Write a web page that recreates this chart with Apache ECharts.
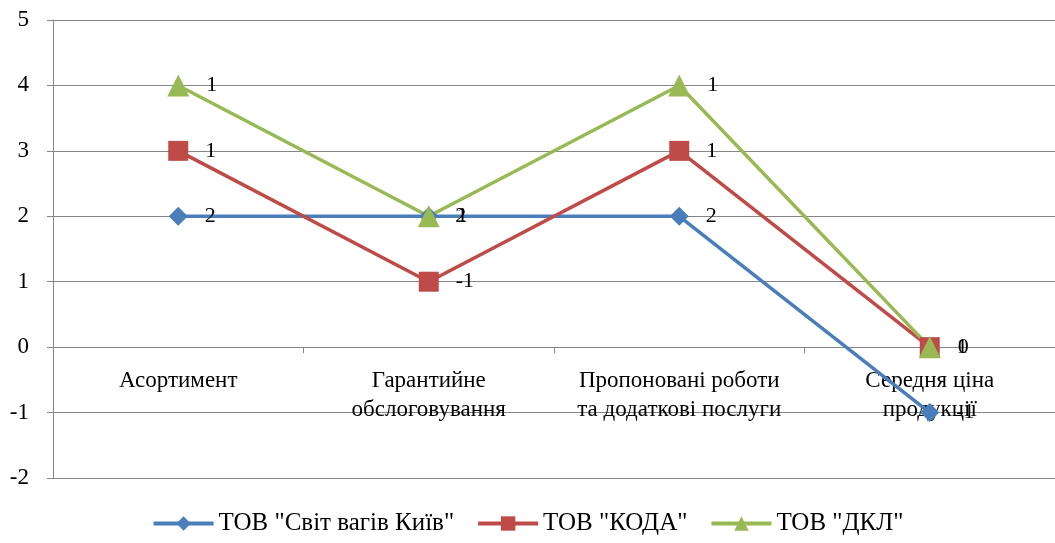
<!DOCTYPE html>
<html><head><meta charset="utf-8">
<script src="https://cdn.jsdelivr.net/npm/echarts@6/dist/echarts.min.js"></script>
<style>html,body{margin:0;padding:0;background:#fff}#c{width:1055px;height:543px}</style>
</head><body><div id="c"></div>
<script>
const categories = ['Асортимент', 'Гарантийне\nобслоговування', 'Пропоновані роботи\nта додаткові послуги', 'Середня ціна\nпродукції'];
const seriesNames = ['ТОВ "Світ вагів Київ"', 'ТОВ "КОДА"', 'ТОВ "ДКЛ"'];
const svitValues = [2, 2, 2, -1];
const kodaValues = [1, -1, 1, 1];
const dklValues = [1, 1, 1, 0];
const yTicks = [-2, -1, 0, 1, 2, 3, 4, 5];

const colors = ['#4A7EBB', '#BE4B48', '#98B954'];
const symbols = ['diamond', 'rect', 'triangle'];
const sizes = [19, 20, 22];
const font = 'Liberation Serif';
const datasets = [svitValues, kodaValues, dklValues];

const W = 1055, H = 543;
const gridTop = 20, gridBottom = 65;
const yMin = yTicks[0], yMax = yTicks[yTicks.length - 1];
const gridH = H - gridTop - gridBottom;
const zeroOffset = -gridH * (0 - yMin) / (yMax - yMin);

const chart = echarts.init(document.getElementById('c'));
chart.setOption({
  animation: false,
  textStyle: { fontFamily: font },
  grid: { left: 53, right: 0, top: gridTop, bottom: gridBottom },
  legend: {
    bottom: 2,
    itemWidth: 60, itemHeight: 18, itemGap: 22,
    lineStyle: { width: 4 },
    textStyle: { fontFamily: font, fontSize: 25, color: '#000' },
    data: seriesNames
  },
  xAxis: {
    type: 'category',
    data: categories,
    boundaryGap: true,
    position: 'bottom',
    offset: zeroOffset,
    axisLine: { onZero: false, lineStyle: { color: '#868686', width: 1 } },
    axisTick: { show: true, length: 6, lineStyle: { color: '#868686' } },
    axisLabel: { fontFamily: font, fontSize: 23, color: '#000', margin: 19, lineHeight: 29, interval: 0 }
  },
  yAxis: {
    type: 'value',
    min: yMin, max: yMax, interval: 1,
    axisLine: { show: true, lineStyle: { color: '#868686' } },
    axisTick: { show: true, length: 6, lineStyle: { color: '#868686' } },
    axisLabel: { fontFamily: font, fontSize: 23, color: '#000', margin: 24 },
    splitLine: { lineStyle: { color: '#868686', width: 1 } }
  },
  series: seriesNames.map((n, i) => ({
    name: n,
    type: 'line',
    stack: 'total',
    stackStrategy: 'all',
    data: datasets[i],
    symbol: symbols[i],
    symbolSize: sizes[i],
    color: colors[i],
    lineStyle: { width: 3.5, color: colors[i] },
    itemStyle: { color: colors[i] },
    label: { show: true, position: 'right', distance: 17, fontFamily: font, fontSize: 22, color: '#000' }
  }))
});
</script></body></html>
